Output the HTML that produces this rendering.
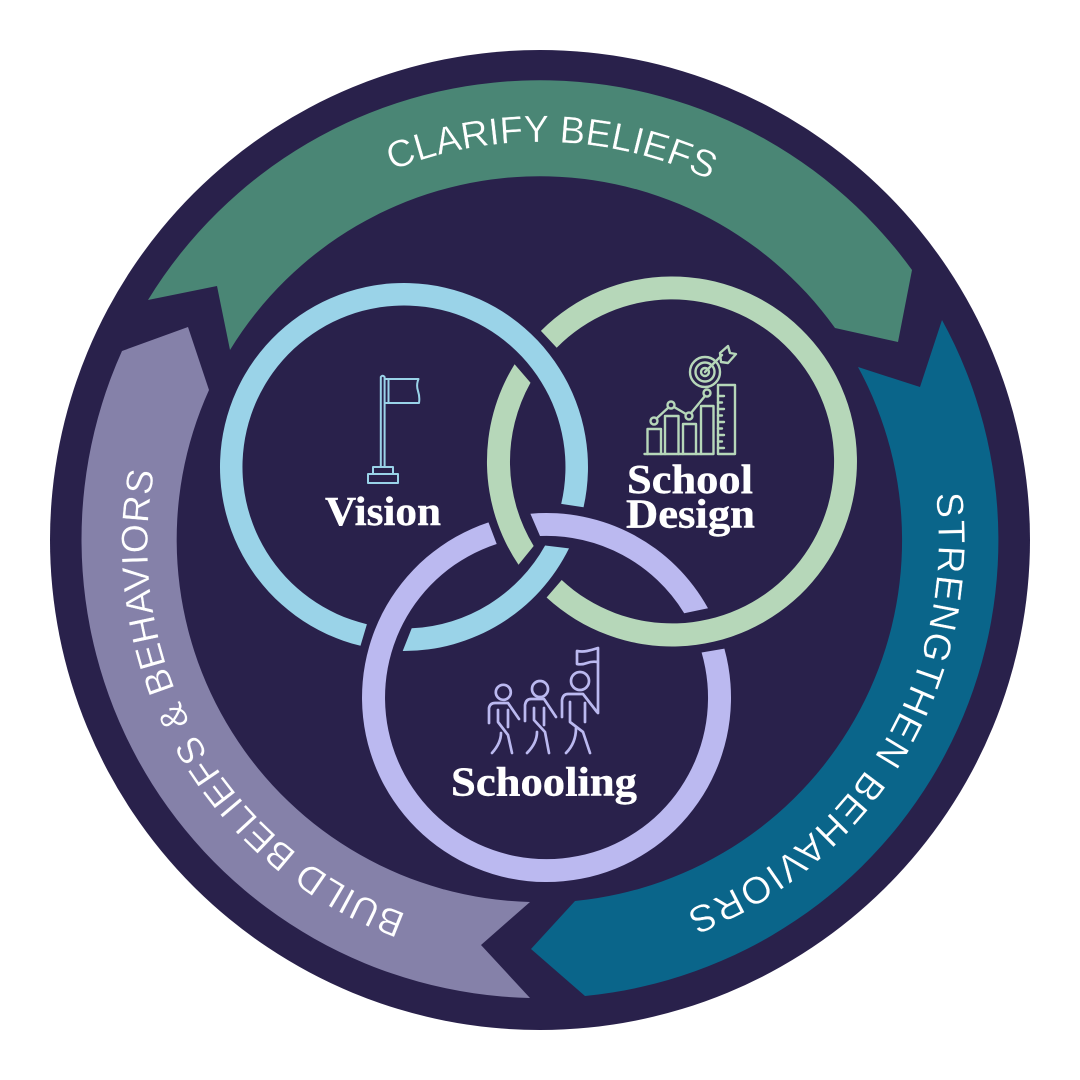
<!DOCTYPE html>
<html><head><meta charset="utf-8"><style>
html,body{margin:0;padding:0;background:#fff;width:1080px;height:1080px;overflow:hidden}
svg{display:block}
.a{font-family:"Liberation Sans",sans-serif;font-size:38px;fill:#fff;stroke-width:.35px}
.h{font-family:"Liberation Serif",serif;font-weight:700;font-size:41px;fill:#fff;stroke:#fff;stroke-width:.4px}
.ic{fill:none;stroke-linecap:round;stroke-linejoin:round}
</style></head><body>
<svg width="1080" height="1080" viewBox="0 0 1080 1080" xmlns="http://www.w3.org/2000/svg">
<rect width="1080" height="1080" fill="#fff"/>
<circle cx="540" cy="540" r="490" fill="#29214b"/>
<path d="M148 300A459.5 459.5 0 0 1 912 270L898 342L835 328A363 363 0 0 0 230 350L217 286Z" fill="#4a8675"/>
<path d="M942 320A458 458 0 0 1 585 996L531 949L575 901A362.5 362.5 0 0 0 858 367L920 387Z" fill="#0a658a"/>
<path d="M122 351A458.7 458.7 0 0 0 530 998L481 945L530 902A362.5 362.5 0 0 1 209 390L188 327Z" fill="#8581a9"/>
<defs>
<path id="t1" d="M387.7 172.3A398 398 0 0 1 714.5 182.3"/>
<path id="t2" d="M935.8 493.5A398.500 398.500 0 0 1 643.100 924.900"/>
<path id="t3" d="M406.400 914A392.500 392.500 0 0 1 171.200 410.800"/>
</defs>
<text class="a" stroke="#4a8675" transform="rotate(0.7 540 540)"><textPath href="#t1">CLARIFY BELIEFS</textPath></text>
<text class="a" stroke="#0a658a" letter-spacing="1.65"><textPath href="#t2">STRENGTHEN BEHAVIORS</textPath></text>
<text class="a" stroke="#8581a9" letter-spacing="0.7" style="font-size:37.5px"><textPath href="#t3">BUILD BELIEFS &amp; BEHAVIORS</textPath></text>
<g fill="#9ad3e8">
<path d="M583.550 507.200A184 184 0 1 0 360.500 645.800L366.900 624.200A161.500 161.500 0 1 1 561.200 503.900Z"/>
<path d="M402.700 651A184 184 0 0 0 569 548.400L545.100 545.500A161.500 161.500 0 0 1 411.700 628.300Z"/>
</g>
<g fill="#b6d7b9">
<path d="M540.900 330.900A185 185 0 1 1 546.600 597.500L561.700 580A162 162 0 1 0 556.700 347.700Z"/>
<path d="M514.600 364.200A185 185 0 0 0 518.500 564.800L533.700 546A162 162 0 0 1 530.500 382.700Z"/>
</g>
<g fill="#bbb9f0">
<path d="M530.400 513.700A184.500 184.500 0 0 1 708 608.300L684.200 613.200A161.500 161.500 0 0 0 540 536Z"/>
<path d="M724.400 648.600A184.500 184.500 0 1 1 488.500 522.400L496.700 544A161.500 161.500 0 1 0 701.600 652.500Z"/>
</g>
<text class="h" x="325" y="525" textLength="116" lengthAdjust="spacingAndGlyphs">Vision</text>
<text class="h" x="627" y="493" textLength="126" lengthAdjust="spacingAndGlyphs">School</text>
<text class="h" x="626" y="527.500" textLength="129" lengthAdjust="spacingAndGlyphs">Design</text>
<text class="h" x="451" y="795.500" textLength="186" lengthAdjust="spacingAndGlyphs">Schooling</text>
<!-- flag icon -->
<g class="ic" stroke="#9ad3e8" stroke-width="2">
<path d="M380.800 467V377Q382.700 374.500 384.600 377V467"/>
<path d="M385 379H418.500Q416 385 418 391Q420 397 419 403H385M388.500 379V403"/>
<path d="M373 474V467H393V474M368 474H398V483H368Z"/>
</g>
<!-- school design icon -->
<g class="ic" stroke="#b6d7b9" stroke-width="2.400">
<path d="M644.500 454H713"/>
<path d="M647.500 454V429H661V454M665 454V416H678.500V454M683 454V424H696V454M701 454V406H713.500V454"/>
<rect x="718" y="385" width="17" height="69"/>
<path d="M718 396H724M718 402.500H722M718 409H724M718 415.500H722M718 422H724M718 428.500H722M718 435H724M718 441.500H722M718 448H724"/>
<circle cx="654" cy="421" r="3.500"/><circle cx="671" cy="405" r="3.500"/><circle cx="689" cy="416" r="3.500"/><circle cx="707" cy="393" r="3.500"/>
<path d="M656.500 418.500L668.500 407.500M674 407L686 414M691 413L705 396"/>
<circle cx="705" cy="372" r="15"/><circle cx="705" cy="372" r="9.500"/><circle cx="705" cy="372" r="4"/>
<path d="M705 372L722 355M720 353L728 346L730 353L736 354L728 363L721 362Z"/>
</g>
<!-- people icon -->
<g class="ic" stroke="#bbb9f0" stroke-width="2.700">
<circle cx="503.300" cy="692.300" r="7.500"/>
<path d="M489 723V708Q490 703 495 703H508L519 719"/>
<path d="M498 710V722L508 735L512 753M508 710V727M501 733Q501 743 492 753"/>
<circle cx="540" cy="689" r="8"/>
<path d="M525 721V705Q526 699 531 699H544L556 717"/>
<path d="M534 708V720L545 732L549 753M544 708V725M537 732Q537 743 527 753"/>
<circle cx="580" cy="681" r="9"/>
<path d="M562 717V700Q563 694 568 694H583L597 712"/>
<path d="M570 702V722L583 732L590 753M585 703V722M576 728Q576 743 566 753"/>
<path d="M598 713V648Q592 650 587 651Q582 652 577 651V664Q582 665 587 663Q592 661 598 662"/>
</g>
</svg>
</body></html>
